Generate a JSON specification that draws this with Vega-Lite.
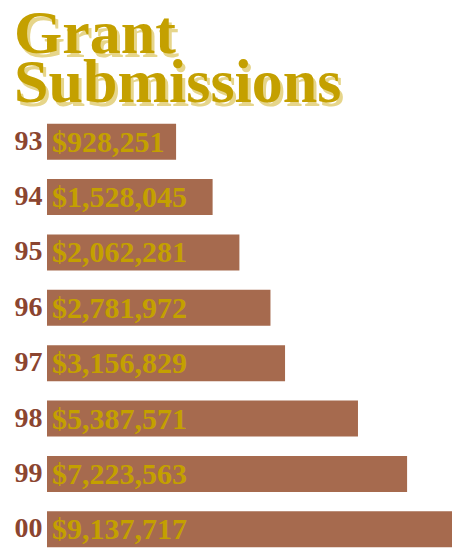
{
  "$schema": "https://vega.github.io/schema/vega-lite/v6.json",
  "padding": {"left": 14, "top": 3, "right": 10, "bottom": 2},
  "background": "white",
  "title": {
    "text": ["Grant", "Submissions"],
    "anchor": "start",
    "frame": "bounds",
    "font": "Liberation Serif",
    "fontSize": 62,
    "fontWeight": "bold",
    "color": "#c4a000",
    "lineHeight": 49,
    "offset": 0,
    "dy": 108
  },
  "vconcat": [
    {
      "width": 405,
      "height": 443,
      "title": {
        "text": ["Grant", "Submissions"],
        "anchor": "start",
        "frame": "bounds",
        "dx": 3,
        "dy": 2,
        "font": "Liberation Serif",
        "fontSize": 62,
        "fontWeight": "bold",
        "color": "#e6d58a",
        "lineHeight": 49,
        "offset": -3
      },
      "data": {
        "values": [
          {"year": "93", "amount": 928251},
          {"year": "94", "amount": 1528045},
          {"year": "95", "amount": 2062281},
          {"year": "96", "amount": 2781972},
          {"year": "97", "amount": 3156829},
          {"year": "98", "amount": 5387571},
          {"year": "99", "amount": 7223563},
          {"year": "00", "amount": 9137717}
        ]
      },
      "encoding": {
        "y": {
          "field": "year",
          "type": "ordinal",
          "sort": null,
          "scale": {"paddingInner": 0.35, "paddingOuter": 0.175},
          "axis": {
            "title": null,
            "domain": false,
            "ticks": false,
            "labelPadding": 5,
            "labelFont": "Liberation Serif",
            "labelFontWeight": "bold",
            "labelFontSize": 28,
            "labelColor": "#8b4530"
          }
        }
      },
      "layer": [
        {
          "mark": {"type": "bar", "color": "#a66a4e"},
          "encoding": {
            "x": {
              "field": "amount",
              "type": "quantitative",
              "scale": {"type": "sqrt", "domain": [0, 9137717], "nice": false},
              "axis": null
            }
          }
        },
        {
          "mark": {
            "type": "text",
            "align": "left",
            "baseline": "middle",
            "dx": 5,
            "dy": 1,
            "font": "Liberation Serif",
            "fontWeight": "bold",
            "fontSize": 30,
            "color": "#c4a000"
          },
          "encoding": {
            "x": {"datum": 0, "type": "quantitative"},
            "text": {"field": "amount", "format": "$,"}
          }
        }
      ]
    }
  ],
  "config": {"view": {"stroke": null}}
}
